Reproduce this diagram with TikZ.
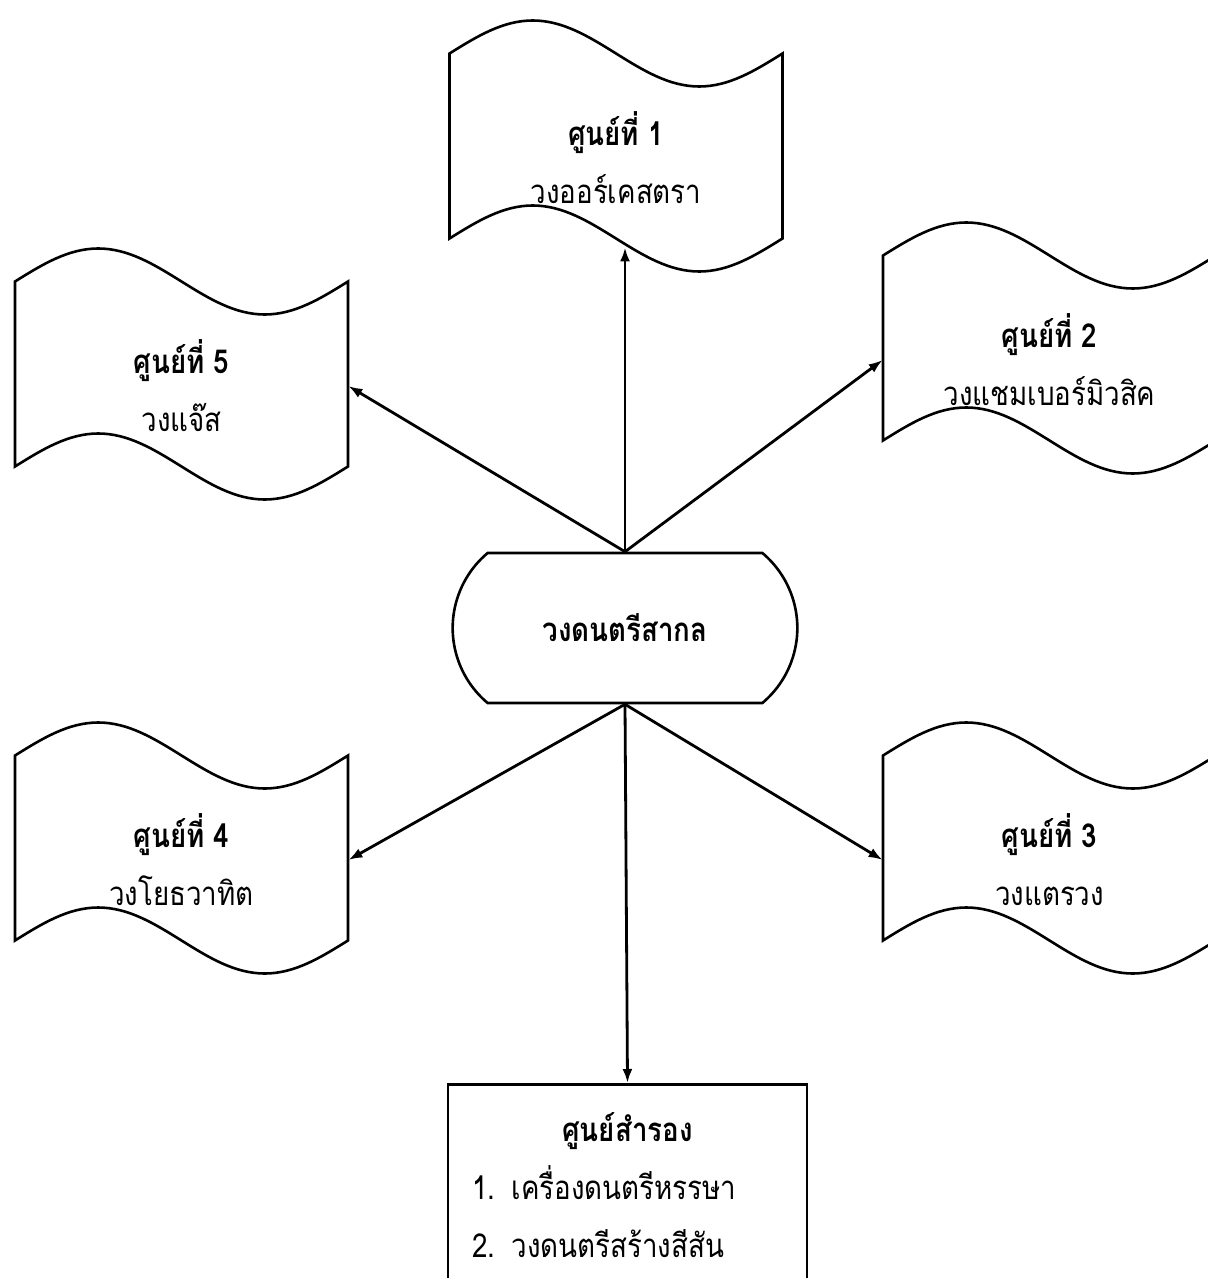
\documentclass[tikz,border=0pt]{standalone}
\usepackage{fontspec}
\newfontfamily\thaifont[Script=Thai,FakeStretch=0.84]{Loma}
\usetikzlibrary{shapes.misc,arrows.meta}

\begin{document}
\begin{tikzpicture}[x=0.5pt,y=-0.5pt,
    every node/.style={font=\thaifont\fontsize{16.5}{29}\selectfont},
    centre/.style={minimum width=166.5pt,minimum height=89pt,inner sep=0pt,align=center},
    hub/.style={draw,line width=1.3pt,rounded rectangle,rounded rectangle arc length=100,
      minimum width=179pt,minimum height=75pt},
    spare/.style={draw,line width=1.3pt,anchor=north,text width=155.5pt,inner xsep=12pt,
      inner ysep=14pt,align=left},
    link/.style={line width=1.4pt,-{Latex[length=7pt,width=5pt]}},
    edge/.style={line width=1.3pt}]
  \useasboundingbox (0,0) rectangle (1208,1278);
  % centres
  \node[centre] (c1) at (616,158) {\textbf{ศูนย์ที่ 1}\\วงออร์เคสตรา};
  \node[centre] (c2) at (1049.5,360) {\textbf{ศูนย์ที่ 2}\\วงแชมเบอร์มิวสิค};
  \node[centre] (c3) at (1049.5,860) {\textbf{ศูนย์ที่ 3}\\วงแตรวง};
  \node[centre] (c4) at (181.5,860) {\textbf{ศูนย์ที่ 4}\\วงโยธวาทิต};
  \node[centre] (c5) at (181.5,386) {\textbf{ศูนย์ที่ 5}\\วงแจ๊ส};
  \node[hub] (hub) at (625,628) {\textbf{วงดนตรีสากล}};
  \node[spare] (res) at (627.5,1083)
    {\makebox[155.5pt]{\textbf{ศูนย์สำรอง}}\\1. เครื่องดนตรีหรรษา\\2. วงดนตรีสร้างสีสัน};
  % wavy outlines
  \foreach \c in {c1,c2,c3,c4,c5}
    \draw[edge,shift={(\c.center)},shift={(0,-12)}]
      (-166.5,-92.5) -- (-166.5,92.5) sin (-83.25,59.5) cos (0,92.5) sin (83.25,125.5) cos (166.5,92.5)
      -- (166.5,-92.5) sin (83.25,-59.5) cos (0,-92.5) sin (-83.25,-125.5) cos (-166.5,-92.5) -- cycle;
  % arrows
  \draw[link] (hub.north) -- (hub.north |- c1.south);
  \draw[link] (hub.north) -- (c2.west);
  \draw[link] (hub.north) -- (c5.east);
  \draw[link] (hub.south) -- (c4.east);
  \draw[link] (hub.south) -- (c3.west);
  \draw[link] (hub.south) -- (res.north);
\end{tikzpicture}
\end{document}
